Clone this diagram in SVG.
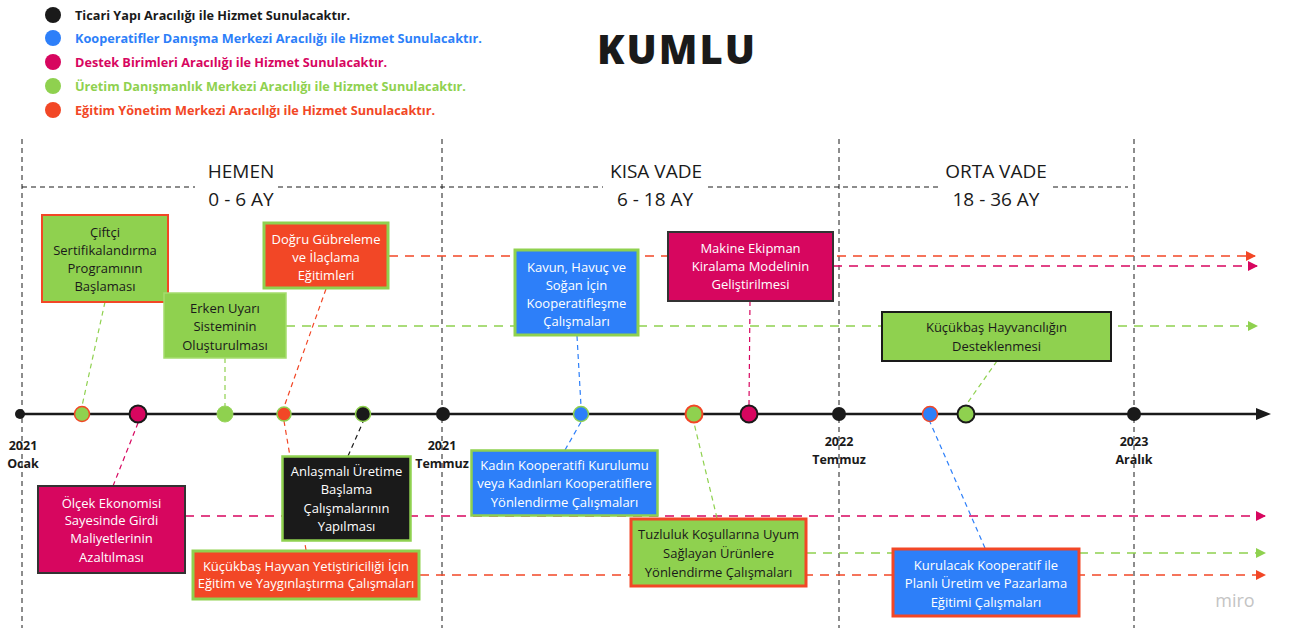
<svg xmlns="http://www.w3.org/2000/svg" width="1295" height="628" viewBox="0 0 1295 628">
<style>
text{font-family:"Open Sans","Noto Sans","Liberation Sans",sans-serif}
.lg{font-size:12.7px;font-weight:700}
.hd{font-size:19px;fill:#1a1a1a;text-anchor:middle}
.dt{font-size:12.5px;font-weight:700;fill:#1a1a1a;text-anchor:middle}
.bt{font-size:13px;text-anchor:middle}
.w{fill:#ffffff}
.k{fill:#1a1a1a}
.vl{stroke:#1a1a1a;stroke-width:1;stroke-dasharray:5 4;fill:none}
.long{stroke-width:1.6;stroke-dasharray:9 7;fill:none}
.con{stroke-width:1.2;stroke-dasharray:5 4;fill:none}
.o{stroke:#f24726}.m{stroke:#d7065f}.g{stroke:#8fd14f}.b{stroke:#2d7ff9}.bk{stroke:#1a1a1a}
</style>
<defs>
<marker id="ao" viewBox="0 0 10 10" refX="9" refY="5" markerWidth="10" markerHeight="10" markerUnits="userSpaceOnUse" orient="auto"><path d="M0,0 L10,5 L0,10 Z" fill="#f24726"/></marker>
<marker id="am" viewBox="0 0 10 10" refX="9" refY="5" markerWidth="10" markerHeight="10" markerUnits="userSpaceOnUse" orient="auto"><path d="M0,0 L10,5 L0,10 Z" fill="#d7065f"/></marker>
<marker id="ag" viewBox="0 0 10 10" refX="9" refY="5" markerWidth="10" markerHeight="10" markerUnits="userSpaceOnUse" orient="auto"><path d="M0,0 L10,5 L0,10 Z" fill="#8fd14f"/></marker>
</defs>
<rect width="1295" height="628" fill="#ffffff"/>

<g id="legend">
<circle cx="53" cy="15" r="8" fill="#1a1a1a"/>
<text class="lg" x="75" y="19.5" fill="#1a1a1a">Ticari Yapı Aracılığı ile Hizmet Sunulacaktır.</text>
<circle cx="53" cy="38" r="8" fill="#2d7ff9"/>
<text class="lg" x="75" y="42.5" fill="#2d7ff9">Kooperatifler Danışma Merkezi Aracılığı ile Hizmet Sunulacaktır.</text>
<circle cx="53" cy="62" r="8" fill="#d7065f"/>
<text class="lg" x="75" y="66.5" fill="#d7065f">Destek Birimleri Aracılığı ile Hizmet Sunulacaktır.</text>
<circle cx="53" cy="86" r="8" fill="#8fd14f"/>
<text class="lg" x="75" y="90.5" fill="#8fd14f">Üretim Danışmanlık Merkezi Aracılığı ile Hizmet Sunulacaktır.</text>
<circle cx="53" cy="110" r="8" fill="#f24726"/>
<text class="lg" x="75" y="114.5" fill="#f24726">Eğitim Yönetim Merkezi Aracılığı ile Hizmet Sunulacaktır.</text>
</g>

<text id="title" x="677" y="64" font-size="40" font-weight="800" letter-spacing="2" fill="#1a1a1a" text-anchor="middle">KUMLU</text>

<g id="grid">
<line class="vl" x1="22" y1="139" x2="22" y2="628"/>
<line class="vl" x1="442" y1="139" x2="442" y2="628"/>
<line class="vl" x1="839" y1="139" x2="839" y2="628"/>
<line class="vl" x1="1134" y1="139" x2="1134" y2="628"/>
<line class="vl" x1="22" y1="187" x2="195" y2="187"/>
<line class="vl" x1="278" y1="187" x2="603" y2="187"/>
<line class="vl" x1="708" y1="187" x2="938" y2="187"/>
<line class="vl" x1="1053" y1="187" x2="1128" y2="187"/>
<text class="hd" x="241" y="178">HEMEN</text>
<text class="hd" x="241" y="206">0 - 6 AY</text>
<text class="hd" x="656" y="178">KISA VADE</text>
<text class="hd" x="655" y="206">6 - 18 AY</text>
<text class="hd" x="996" y="178">ORTA VADE</text>
<text class="hd" x="996" y="206">18 - 36 AY</text>
</g>

<g id="connectors">
<line class="long o" x1="389" y1="256" x2="1255" y2="256" marker-end="url(#ao)"/>
<line class="long m" x1="833" y1="266" x2="1257" y2="266" marker-end="url(#am)"/>
<line class="long g" x1="286" y1="326" x2="1257" y2="326" marker-end="url(#ag)"/>
<line class="long m" x1="185" y1="516" x2="1265" y2="516" marker-end="url(#am)"/>
<line class="long g" x1="807" y1="553" x2="1265" y2="553" marker-end="url(#ag)"/>
<line class="long o" x1="420" y1="575" x2="1265" y2="575" marker-end="url(#ao)"/>
<line class="con g" x1="105" y1="302" x2="82" y2="406"/>
<line class="con g" x1="225" y1="358" x2="225" y2="406"/>
<line class="con o" x1="326" y1="289" x2="284" y2="407"/>
<line class="con b" x1="577" y1="336" x2="581" y2="406"/>
<line class="con m" x1="750" y1="301" x2="749" y2="405"/>
<line class="con g" x1="997" y1="361" x2="966" y2="405"/>
<line class="con m" x1="113" y1="486" x2="138" y2="423"/>
<line class="con bk" x1="348" y1="456" x2="363" y2="422" stroke-width="2" stroke-dasharray="6 5"/>
<line class="con o" x1="284" y1="421" x2="306" y2="550"/>
<line class="con b" x1="565" y1="450" x2="581" y2="422"/>
<line class="con g" x1="717" y1="518" x2="694" y2="423"/>
<line class="con b" x1="985" y1="548" x2="930" y2="422"/>
</g>

<g id="timeline">
<line x1="20" y1="414" x2="1258" y2="414" stroke="#1a1a1a" stroke-width="2.5"/>
<path d="M1256,408 L1271,414 L1256,420 Z" fill="#1a1a1a"/>
<circle cx="20" cy="414" r="5" fill="#1a1a1a"/>
<circle cx="82" cy="414" r="7.5" fill="#8fd14f" stroke="#f24726" stroke-width="1.5"/>
<circle cx="138" cy="414" r="8.5" fill="#d7065f" stroke="#1a1a1a" stroke-width="2"/>
<circle cx="225" cy="414" r="8" fill="#8fd14f" stroke="#9bd65f" stroke-width="1"/>
<circle cx="284" cy="414" r="7" fill="#f24726" stroke="#8fd14f" stroke-width="1.5"/>
<circle cx="363" cy="414" r="7.5" fill="#1a1a1a" stroke="#8fd14f" stroke-width="1.5"/>
<circle cx="443" cy="414" r="7" fill="#1a1a1a"/>
<circle cx="581" cy="414" r="7.5" fill="#2d7ff9" stroke="#8fd14f" stroke-width="1.5"/>
<circle cx="694" cy="414" r="8.5" fill="#8fd14f" stroke="#f24726" stroke-width="2"/>
<circle cx="749" cy="414" r="8.5" fill="#d7065f" stroke="#1a1a1a" stroke-width="2"/>
<circle cx="839" cy="414" r="7" fill="#1a1a1a"/>
<circle cx="930" cy="414" r="7.5" fill="#2d7ff9" stroke="#f24726" stroke-width="1.5"/>
<circle cx="966" cy="414" r="8.5" fill="#8fd14f" stroke="#1a1a1a" stroke-width="2"/>
<circle cx="1134" cy="414" r="7" fill="#1a1a1a"/>
<text class="dt" x="23" y="450">2021</text>
<text class="dt" x="23" y="468">Ocak</text>
<text class="dt" x="442" y="450">2021</text>
<text class="dt" x="442" y="468">Temmuz</text>
<text class="dt" x="839" y="446">2022</text>
<text class="dt" x="839" y="464">Temmuz</text>
<text class="dt" x="1134" y="446">2023</text>
<text class="dt" x="1134" y="464">Aralık</text>
</g>

<g id="n-ciftci">
<rect x="42" y="215" width="126" height="87" fill="#8fd14f" stroke="#f24726" stroke-width="2"/>
<text class="bt k" x="105" y="236.5">Çiftçi</text>
<text class="bt k" x="105" y="254.5">Sertifikalandırma</text>
<text class="bt k" x="105" y="272.5">Programının</text>
<text class="bt k" x="105" y="290.5">Başlaması</text>
</g>
<g id="n-erken">
<rect x="164" y="293" width="122" height="65" fill="#8fd14f" stroke="#a5dc6e" stroke-width="1.5"/>
<text class="bt k" x="225" y="312.5">Erken Uyarı</text>
<text class="bt k" x="225" y="330.5">Sisteminin</text>
<text class="bt k" x="225" y="349.5">Oluşturulması</text>
</g>
<g id="n-dogru">
<rect x="264" y="223" width="124" height="65" fill="#f24726" stroke="#8fd14f" stroke-width="3"/>
<text class="bt w" x="326" y="243.5">Doğru Gübreleme</text>
<text class="bt w" x="326" y="261.5">ve İlaçlama</text>
<text class="bt w" x="326" y="280">Eğitimleri</text>
</g>
<g id="n-kavun">
<rect x="515" y="250" width="123" height="85" fill="#2d7ff9" stroke="#8fd14f" stroke-width="3"/>
<text class="bt w" x="576.5" y="271.5">Kavun, Havuç ve</text>
<text class="bt w" x="576.5" y="289.5">Soğan İçin</text>
<text class="bt w" x="576.5" y="307.5">Kooperatifleşme</text>
<text class="bt w" x="576.5" y="326">Çalışmaları</text>
</g>
<g id="n-makine">
<rect x="668" y="232" width="165" height="69" fill="#d7065f" stroke="#333333" stroke-width="2"/>
<text class="bt w" x="750.5" y="252.5">Makine Ekipman</text>
<text class="bt w" x="750.5" y="270.5">Kiralama Modelinin</text>
<text class="bt w" x="750.5" y="289">Geliştirilmesi</text>
</g>
<g id="n-kucukbas-hayvancilik">
<rect x="882" y="312" width="229" height="49" fill="#8fd14f" stroke="#1a1a1a" stroke-width="2"/>
<text class="bt k" x="996.5" y="331.5">Küçükbaş Hayvancılığın</text>
<text class="bt k" x="996.5" y="350.5">Desteklenmesi</text>
</g>
<g id="n-olcek">
<rect x="38" y="486" width="147" height="87" fill="#d7065f" stroke="#333333" stroke-width="2"/>
<text class="bt w" x="111.5" y="507.5">Ölçek Ekonomisi</text>
<text class="bt w" x="111.5" y="525">Sayesinde Girdi</text>
<text class="bt w" x="111.5" y="543">Maliyetlerinin</text>
<text class="bt w" x="111.5" y="561.5">Azaltılması</text>
</g>
<g id="n-anlasmali">
<rect x="282.5" y="456.5" width="128" height="84" fill="#1a1a1a" stroke="#8fd14f" stroke-width="2.5"/>
<text class="bt w" x="346.5" y="475.5">Anlaşmalı Üretime</text>
<text class="bt w" x="346.5" y="493.5">Başlama</text>
<text class="bt w" x="346.5" y="512.5">Çalışmalarının</text>
<text class="bt w" x="346.5" y="531">Yapılması</text>
</g>
<g id="n-kucukbas-egitim">
<rect x="193" y="551" width="226" height="48" fill="#f24726" stroke="#8fd14f" stroke-width="3"/>
<text class="bt w" x="306" y="570.5">Küçükbaş Hayvan Yetiştiriciliği İçin</text>
<text class="bt w" x="306" y="588">Eğitim ve Yaygınlaştırma Çalışmaları</text>
</g>
<g id="n-kadin">
<rect x="471.5" y="450.5" width="186" height="65" fill="#2d7ff9" stroke="#8fd14f" stroke-width="2.5"/>
<text class="bt w" x="564.5" y="469.5">Kadın Kooperatifi Kurulumu</text>
<text class="bt w" x="564.5" y="487.5">veya Kadınları Kooperatiflere</text>
<text class="bt w" x="564.5" y="506.5">Yönlendirme Çalışmaları</text>
</g>
<g id="n-tuzluluk">
<rect x="631" y="519" width="175" height="67" fill="#8fd14f" stroke="#f24726" stroke-width="3"/>
<text class="bt k" x="718.5" y="538.5">Tuzluluk Koşullarına Uyum</text>
<text class="bt k" x="718.5" y="557.5">Sağlayan Ürünlere</text>
<text class="bt k" x="718.5" y="576.5">Yönlendirme Çalışmaları</text>
</g>
<g id="n-kurulacak">
<rect x="893" y="549" width="186" height="67" fill="#2d7ff9" stroke="#f24726" stroke-width="3"/>
<text class="bt w" x="986" y="569.5">Kurulacak Kooperatif ile</text>
<text class="bt w" x="986" y="587.5">Planlı Üretim ve Pazarlama</text>
<text class="bt w" x="986" y="606.5">Eğitimi Çalışmaları</text>
</g>

<text id="watermark" x="1235" y="607" font-size="18" fill="#c4c4c4" text-anchor="middle">miro</text>
</svg>
